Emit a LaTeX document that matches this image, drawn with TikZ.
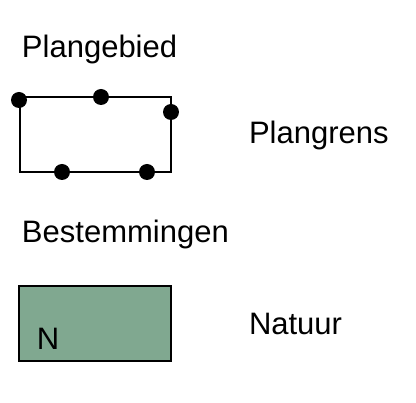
\documentclass[tikz,border=0pt]{standalone}
\usepackage{fontspec}
\setmainfont{Liberation Sans}
\usetikzlibrary{positioning,calc}
\definecolor{natuurgreen}{RGB}{128,168,144}
\tikzset{
  label/.style={anchor=base west,inner sep=0pt,font=\fontsize{31}{37}\selectfont},
  dot/.style={circle,fill=black,inner sep=0pt,minimum size=16pt}
}

\begin{document}
\begin{tikzpicture}[x=1pt,y=-1pt,line width=2pt]
\useasboundingbox (0,0) rectangle (416,403);

\node [label] (plangebied) at (21,58) {Plangebied};
\node [label] (plangrens) at (248,144) {Plangrens};
\node [label] (bestemmingen) at (21,243) {Bestemmingen};
\node [label] (natuur) at (248,335) {Natuur};

% plangebied outline
\node [draw,minimum width=151pt,minimum height=75pt,inner sep=0pt] (grens) at (95.5,134.5) {};

\node [dot] (d1) at (19,100) {};
\node [dot] (d2) at (101,97) {};
\node [dot] (d3) at (171,112) {};
\node [dot] (d4) at (62,172) {};
\node [dot] (d5) at (147,172) {};

% bestemming natuur
\node [draw,fill=natuurgreen,minimum width=152pt,minimum height=75pt,inner sep=0pt] (vlak) at (95,323.5) {};
\node [label] (code) at (36,350) {N};

\end{tikzpicture}
\end{document}
